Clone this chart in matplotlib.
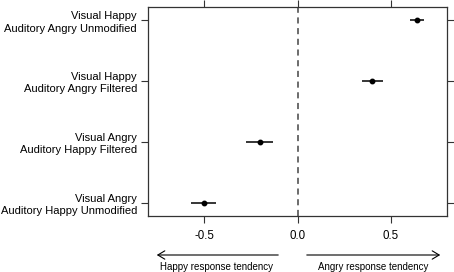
import numpy as np
import matplotlib
matplotlib.use("Agg")
from matplotlib import pyplot as plt

plt.rcParams['font.family'] = ['Liberation Sans', 'DejaVu Sans']

conditions = [
    'Visual Angry\nAuditory Happy Unmodified',
    'Visual Angry\nAuditory Happy Filtered',
    'Visual Happy\nAuditory Angry Filtered',
    'Visual Happy\nAuditory Angry Unmodified',
]
estimates = [-0.50, -0.203, 0.401, 0.638]
ci_low = [-0.568, -0.274, 0.344, 0.600]
ci_high = [-0.437, -0.131, 0.455, 0.675]
xticks = [-0.5, 0.0, 0.5]
xtick_labels = ['-0.5', '0.0', '0.5']

fig = plt.figure(figsize=(4.54, 2.72), dpi=100)
ax = fig.add_axes([148 / 454, 1 - 216 / 272, 299 / 454, 209 / 272])

ypos = np.arange(1, len(conditions) + 1)
est = np.array(estimates)
lo = est - np.array(ci_low)
hi = np.array(ci_high) - est
ax.errorbar(est, ypos, xerr=[lo, hi], fmt='o', color='black', ms=3.2,
            elinewidth=1.1, capsize=0)
ax.axvline(0, color='#444444', lw=1.1, ls=(0, (4, 3)))

ax.set_xlim(-0.8, 0.8)
ax.set_ylim(0.785, 4.215)
ax.set_xticks(xticks)
ax.set_xticklabels(xtick_labels, fontsize=8.3)
ax.set_yticks(ypos)
ax.set_yticklabels(conditions, ha='right', linespacing=1.3, fontsize=8)
ax.tick_params(axis='both', direction='out', length=5, width=0.8,
               color='#333333',
               top=True, right=True, labeltop=False, labelright=False)
ax.tick_params(axis='x', pad=5)
ax.tick_params(axis='y', pad=3)
for s in ax.spines.values():
    s.set_color('#333333')
    s.set_linewidth(0.9)

# direction arrows below the axis
ay = 1 - 255 / 272
fig.add_artist(matplotlib.patches.FancyArrowPatch(
    (281 / 454, ay), (154 / 454, ay), transform=fig.transFigure,
    arrowstyle='->,head_length=5,head_width=3', color='black', lw=0.8))
fig.add_artist(matplotlib.patches.FancyArrowPatch(
    (304 / 454, ay), (443 / 454, ay), transform=fig.transFigure,
    arrowstyle='->,head_length=5,head_width=3', color='black', lw=0.8))
fig.text(217 / 454, 1 - 267 / 272, 'Happy response tendency', ha='center',
         va='center', fontsize=7)
fig.text(373 / 454, 1 - 267 / 272, 'Angry response tendency', ha='center',
         va='center', fontsize=7)

fig.savefig('out.png', dpi=100)
